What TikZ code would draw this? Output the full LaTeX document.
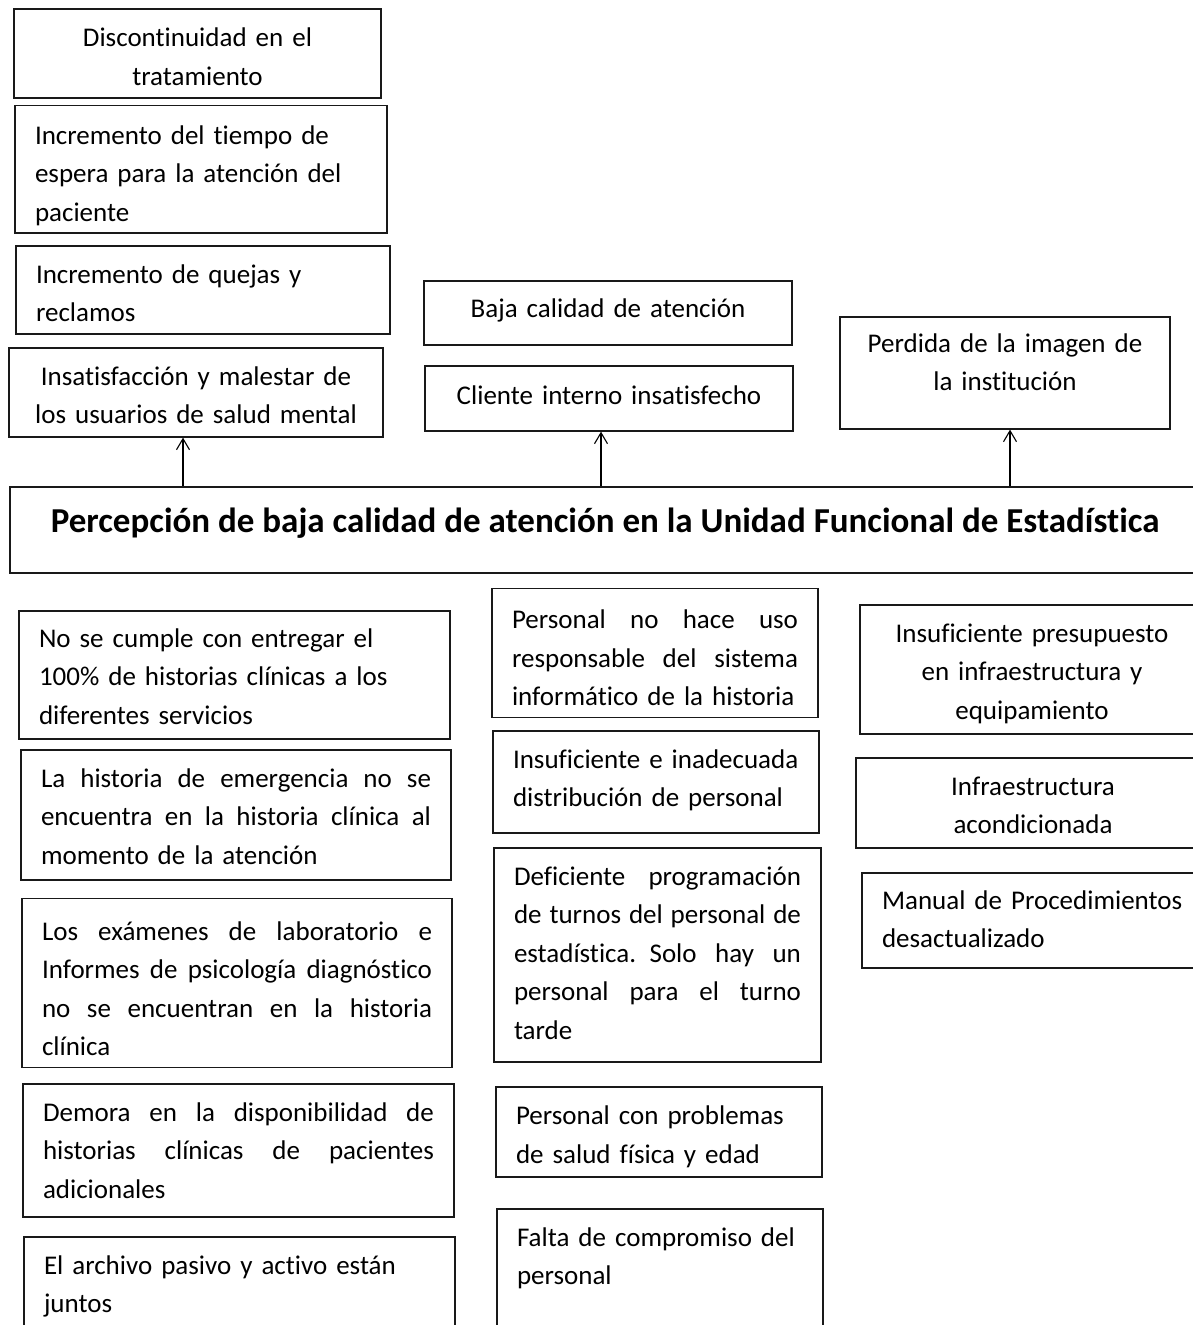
\documentclass[tikz,border=0pt]{standalone}
\usepackage{fontspec}
\setmainfont[Ligatures=NoCommon]{Carlito}
\usetikzlibrary{arrows.meta}
\newcommand\jl[2]{\leavevmode\hbox to #1{\spaceskip=\fontdimen2\font plus 1fil\relax #2}}
\tikzset{
  bx/.style={draw=black!90, line width=1.3pt, inner ysep=0pt, inner xsep=20pt,
    font=\fontsize{27}{38.5}\selectfont, anchor=center,
    execute at end node={\strut}},
  ttl/.style={draw=black!90, line width=2.2pt, inner sep=0pt,
    font=\fontsize{35}{40}\selectfont\bfseries, text height=24pt, text depth=20pt},
  arr/.style={line width=1.2pt, -{Straight Barb[length=11pt,width=13pt,line width=1.1pt]}}
}
\begin{document}
\begin{tikzpicture}[x=1pt,y=-1pt]
\useasboundingbox (0,0) rectangle (1193,1325);
\fill[white] (0,0) rectangle (1193,1325);
\clip (0,0) rectangle (1193,1325);

% effects
\node[bx, text height=36.65pt, text width=327pt, minimum height=89pt, align=center] (disc) at (197.5,53.5)
  {Discontinuidad en el\\tratamiento};
\node[bx, text height=39.15pt, text width=332pt, minimum height=124pt, align=left] (tiempo) at (201,169)
  {Incremento del tiempo de\\espera para la atención del\\paciente};
\node[bx, text height=36.65pt, text width=334pt, minimum height=88pt, align=left] (quejas) at (203,290)
  {Incremento de quejas y\\reclamos};
\node[bx, text height=35.65pt, text width=334pt, minimum height=89pt, align=center] (insat) at (196,392.5)
  {Insatisfacción y malestar de\\los usuarios de salud mental};
\node[bx, text height=20.15pt, text width=328pt, minimum height=64pt, align=center] (baja) at (608,313)
  {Baja calidad de atención};
\node[bx, text height=23.15pt, text width=328pt, minimum height=65pt, align=center] (cliente) at (609,398.5)
  {Cliente interno insatisfecho};
\node[bx, text height=8.65pt, text width=290pt, minimum height=112pt, align=center] (perd) at (1005,373)
  {Perdida de la imagen de\\la institución};

% central problem
\node[ttl, minimum width=1190pt, minimum height=86pt] (title) at (605,530)
  {Percepción de baja calidad de atención en la Unidad Funcional de Estadística};

\draw[arr] ([xshift=-13pt]insat.south |- title.north) -- ([xshift=-13pt]insat.south);
\draw[arr] ([xshift=-8pt]cliente.south |- title.north) -- ([xshift=-8pt]cliente.south);
\draw[arr] ([xshift=5pt]perd.south |- title.north) -- ([xshift=5pt]perd.south);

% causes left
\node[bx, text height=33.15pt, text width=391pt, minimum height=128pt, align=left] (cumple) at (234.5,675)
  {No se cumple con entregar el\\100\% de historias clínicas a los\\diferentes servicios};
\node[bx, text height=33.15pt, text width=390pt, minimum height=130pt, align=left] (emerg) at (236,815)
  {\jl{390pt}{La historia de emergencia no se}\\\jl{390pt}{encuentra en la historia clínica al}\\momento de la atención};
\node[bx, text height=41.65pt, text width=390pt, minimum height=160pt, align=left] (exam) at (237,983)
  {\jl{390pt}{Los exámenes de laboratorio e}\\\jl{390pt}{Informes de psicología diagnóstico}\\\jl{390pt}{no se encuentran en la historia}\\clínica};
\node[bx, text height=30.15pt, text width=391pt, minimum height=133pt, align=left] (demora) at (238.5,1150.5)
  {\jl{391pt}{Demora en la disponibilidad de}\\\jl{391pt}{historias clínicas de pacientes}\\adicionales};
\node[bx, text height=31.15pt, text width=391pt, minimum height=132pt, align=left] (archivo) at (239.5,1303)
  {El archivo pasivo y activo están\\juntos\\\mbox{}};

% causes middle
\node[bx, text height=40.15pt, text width=286pt, minimum height=126pt, align=left] (nohace) at (655,653)
  {\jl{286pt}{Personal no hace uso}\\\jl{286pt}{responsable del sistema}\\informático de la historia};
\node[bx, text height=22.65pt, text width=286pt, minimum height=102pt, align=left] (insuf) at (656,782)
  {Insuficiente e inadecuada\\distribución de personal};
\node[bx, text height=26.15pt, text width=287pt, minimum height=214pt, align=left] (defic) at (657.5,955)
  {\jl{287pt}{Deficiente programación}\\\jl{287pt}{de turnos del personal de}\\\jl{287pt}{estadística. Solo hay un}\\\jl{287pt}{personal para el turno}\\tarde};
\node[bx, text height=35.65pt, text width=286pt, minimum height=90pt, align=left] (salud) at (659,1132)
  {Personal con problemas\\de salud física y edad};
\node[bx, text height=31.15pt, text width=286pt, minimum height=132pt, align=left] (falta) at (660,1275)
  {Falta de compromiso del\\personal\\\mbox{}};

% causes right
\node[bx, text height=34.15pt, text width=304pt, minimum height=129pt, align=center] (presup) at (1032,669.5)
  {Insuficiente presupuesto\\en infraestructura y\\equipamiento};
\node[bx, text height=34.65pt, text width=314pt, minimum height=90pt, align=center] (infra) at (1033,803)
  {Infraestructura\\acondicionada};
\node[bx, text height=27.65pt, text width=308pt, minimum height=95pt, align=left] (manual) at (1036,920.5)
  {Manual de Procedimientos\\desactualizado};
\end{tikzpicture}
\end{document}
